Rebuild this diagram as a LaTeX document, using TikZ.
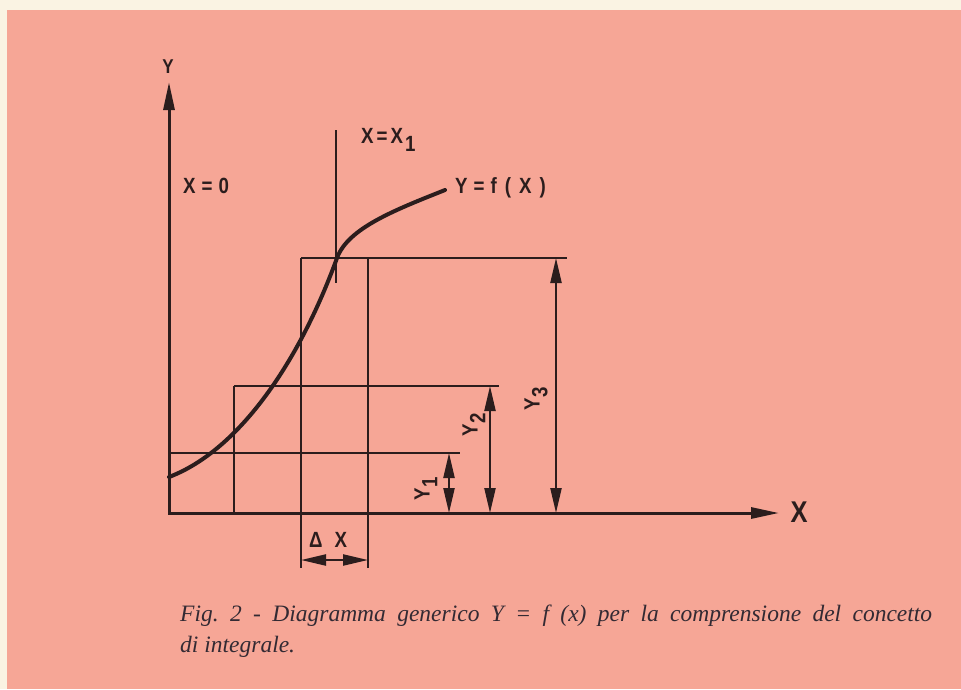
\documentclass[tikz,border=0pt]{standalone}
\usepackage{fontspec}
\setmainfont{Liberation Serif}
\newfontfamily\labfont[FakeStretch=0.85]{Liberation Sans}
\usetikzlibrary{arrows.meta}
\definecolor{bgpink}{HTML}{F6A696}
\definecolor{cream}{HTML}{FAF3E3}
\definecolor{ink}{HTML}{2B1D1D}
\definecolor{captink}{HTML}{332A33}
\begin{document}
\frenchspacing
\begin{tikzpicture}[x=1pt,y=-1pt,
  lab/.style={font=\labfont\bfseries\fontsize{22}{24}\selectfont, text=ink, inner sep=0pt},
  ruleline/.style={draw=ink, line width=2.2pt},
  axisline/.style={draw=ink, line width=3pt, -{Triangle[length=28pt,width=11pt]}},
  dimline/.style={draw=ink, line width=2.2pt, {Triangle[length=25pt,width=11pt]}-{Triangle[length=25pt,width=11pt]}},
  capt/.style={text=captink, font=\itshape\fontsize{23.5}{28}\selectfont, inner sep=0pt, anchor=base west}
]
\fill[cream] (0,0) rectangle (961,689);
\fill[bgpink] (7,10) rectangle (961,689);
\useasboundingbox (0,0) rectangle (961,689);

% key points
\coordinate (O) at (169,513);
\coordinate (O2) at (169,514.5);
\coordinate (yt) at (169,82);
\coordinate (xt) at (779,513);
\coordinate (l1a) at (169,453);  \coordinate (l1b) at (460,453);
\coordinate (l2a) at (234,386);  \coordinate (l2b) at (499,386);
\coordinate (l3a) at (301,258);  \coordinate (l3b) at (567,258);
\coordinate (v2b) at (234,513);
\coordinate (v3b) at (301,568);
\coordinate (v4a) at (368,258);  \coordinate (v4b) at (368,568);
\coordinate (x1a) at (336,130);  \coordinate (x1b) at (336,283);
\coordinate (d1a) at (449,453);  \coordinate (d1b) at (449,513);
\coordinate (d2a) at (490,386);  \coordinate (d2b) at (490,513);
\coordinate (d3a) at (556,258);  \coordinate (d3b) at (556,513);
\coordinate (dxa) at (301,560);  \coordinate (dxb) at (368,560);
\coordinate (c0) at (169,477);
\coordinate (cm) at (337,258);
\coordinate (c1) at (445,190);

% rectangles and guide lines
\draw[ruleline] (l1a) -- (l1b);
\draw[ruleline] (l2a) -- (l2b);
\draw[ruleline] (l3a) -- (l3b);
\draw[ruleline] (l2a) -- (v2b);
\draw[ruleline] (l3a) -- (v3b);
\draw[ruleline] (v4a) -- (v4b);
\draw[ruleline] (x1a) -- (x1b);

% axes
\draw[axisline] (O2) -- (yt);
\draw[axisline] (O) -- (xt);

% curve
\draw[ink, line width=4pt, line cap=round]
  (c0) .. controls (240,450) and (300,360) .. (cm)
       .. controls (348,228) and (395,210) .. (c1);

% dimensions
\draw[dimline] (d1b) -- (d1a);
\draw[dimline] (d2b) -- (d2a);
\draw[dimline] (d3b) -- (d3a);
\draw[dimline] (dxa) -- (dxb);

% labels
\node[lab, font=\labfont\bfseries\fontsize{20}{22}\selectfont] (ylab) at (168,67) {Y};
\node[lab, font=\labfont\bfseries\fontsize{30}{32}\selectfont] (xlab) at (799,512) {X};
\node[lab, anchor=base west] (x0) at (183,193) {X\hspace{6pt}=\hspace{6pt}0};
\node[lab, anchor=base west] (x1) at (361,143) {X\hspace{3pt}=\hspace{3pt}X\hspace{2pt}\raisebox{-0.4em}{1}};
\node[lab, anchor=base west] (fx) at (455,193) {Y\hspace{6pt}=\hspace{6pt}f\hspace{8pt}(\hspace{8pt}X\hspace{8pt})};
\node[lab, anchor=base west] (dx) at (309,547) {Δ\hspace{12pt}X};
\node[lab, rotate=90] (y1) at (426,489) {Y\raisebox{-0.35em}{1}};
\node[lab, rotate=90] (y2) at (474,425) {Y\raisebox{-0.35em}{2}};
\node[lab, rotate=90] (y3) at (536,399) {Y\raisebox{-0.35em}{3}};

% caption
\node[capt] (cap1) at (180,621) {\makebox[752pt][s]{Fig. 2 - Diagramma generico Y = f (x) per la comprensione del concetto}};
\node[capt] (cap2) at (180,652) {di integrale.};
\end{tikzpicture}
\end{document}
